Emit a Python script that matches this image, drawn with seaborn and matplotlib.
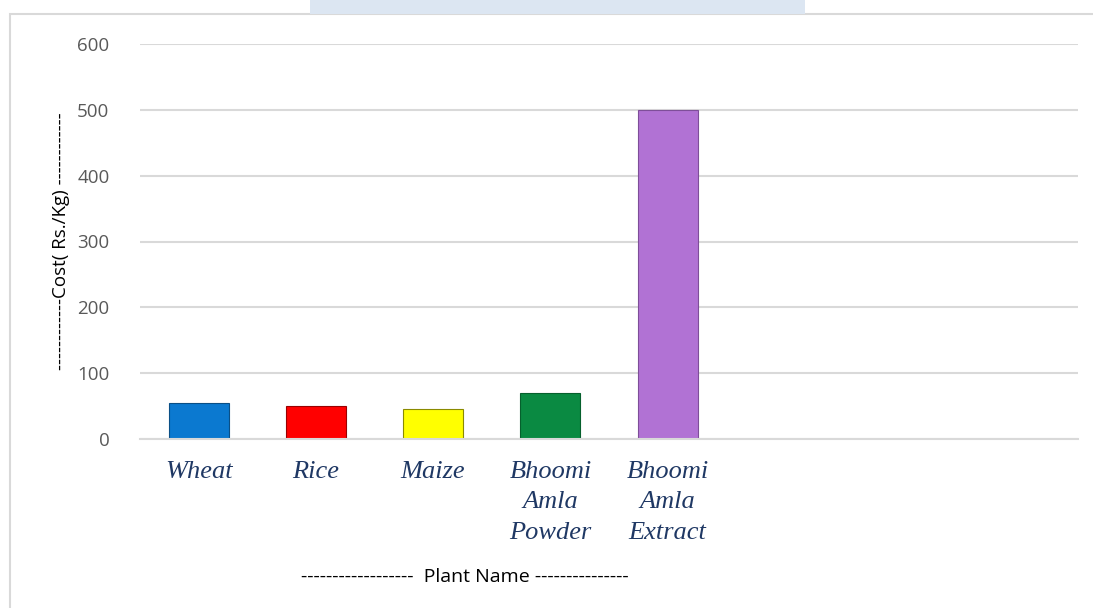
import matplotlib
matplotlib.use("Agg")
import matplotlib.pyplot as plt
import seaborn as sns
from matplotlib.patches import Rectangle
from matplotlib import font_manager as fm

categories = ["Wheat", "Rice", "Maize", "Bhoomi\nAmla\nPowder", "Bhoomi\nAmla\nExtract"]
costs = [55, 50, 45, 70, 500]
bar_colors = ["#0B79D0", "#FF0000", "#FFFF00", "#0A8A42", "#B172D4"]
edge_colors = ["#0A4F86", "#9A0000", "#8A8A00", "#06602D", "#7E4E99"]
yticks = [0, 100, 200, 300, 400, 500, 600]

sns.set_theme(style="white")
plt.rcParams['font.family'] = ['Open Sans', 'DejaVu Sans']

serif_fp = fm.FontProperties(family=["Liberation Serif"], style="italic", size=19)

fig = plt.figure(figsize=(10.93, 6.08), dpi=100)
ax = fig.add_axes([140/1093, 1-439/608, 938/1093, 395/608])

sns.barplot(x=categories, y=costs, hue=categories, palette=bar_colors,
            width=0.51, legend=False, ax=ax, saturation=1)
for p, ec in zip(ax.patches, edge_colors):
    p.set_edgecolor(ec)
    p.set_linewidth(0.8)

ax.set_xlim(-0.5, 7.5)
ax.set_ylim(0, 600)
ax.set_yticks(yticks)
ax.set_yticklabels([str(v) for v in yticks], color="#595959", fontsize=13.5)
ax.yaxis.grid(True, color="#D9D9D9", linewidth=1.5)
ax.set_axisbelow(True)
for s in ["top", "right", "left"]:
    ax.spines[s].set_visible(False)
ax.spines["bottom"].set_color("#D9D9D9")
ax.spines["bottom"].set_linewidth(1.5)
ax.tick_params(axis="y", length=0, pad=22)
ax.tick_params(axis="x", length=0, pad=15.5)
ax.set_xticks(range(len(categories)))
ax.set_xticklabels(categories, fontproperties=serif_fp, color="#1F3864",
                   linespacing=1.5, va="top")

ax.set_ylabel("------------Cost( Rs./Kg) ------------", fontsize=13.5, color="black")
ax.yaxis.set_label_coords(-70/938, 0.5)
ax.set_xlabel("")

fig.text(465/1093, 1-577/608, "------------------  Plant Name ---------------",
         ha="center", va="center", fontsize=14, color="black")

fig.patches.append(Rectangle((10/1093, -0.01), 1.0, 1-14/608 + 0.01,
                             transform=fig.transFigure, fill=False,
                             edgecolor="#D9D9D9", linewidth=1.5))
fig.patches.append(Rectangle((310/1093, 1-14/608), 495/1093, 14/608,
                             transform=fig.transFigure, facecolor="#DCE6F2",
                             edgecolor="none"))

fig.savefig("out.png", dpi=100)
